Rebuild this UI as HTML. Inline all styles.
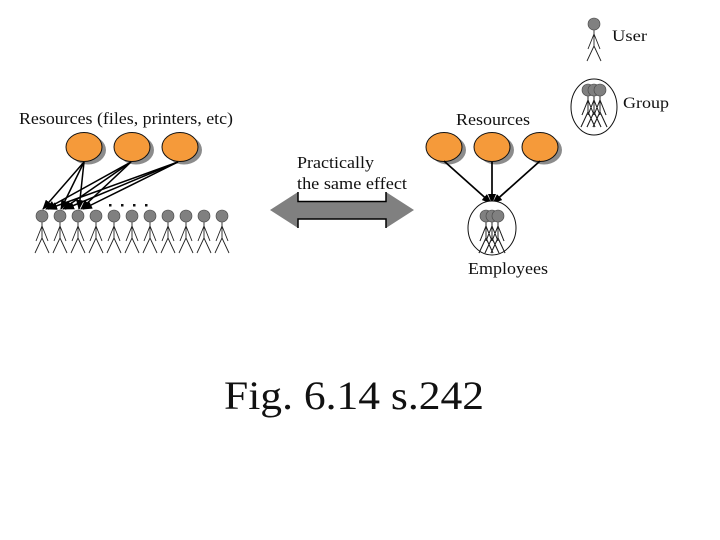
<!DOCTYPE html>
<html>
<head>
<meta charset="utf-8">
<style>
html,body{margin:0;padding:0;background:#fff;width:720px;height:540px;overflow:hidden}
svg{display:block}
text{font-family:"Liberation Serif",serif;fill:#111}
</style>
</head>
<body>
<svg width="720" height="540" viewBox="0 0 720 540" xmlns="http://www.w3.org/2000/svg">
<defs>
<g id="res">
<ellipse cx="4" cy="3" rx="18" ry="14.5" fill="#8c8c8c"/>
<ellipse cx="0" cy="0" rx="18" ry="14.5" fill="#f59a3a" stroke="#111" stroke-width="1"/>
</g>
<g id="body" fill="none" stroke="#222" stroke-width="0.9">
<path d="M0 6V22M0 10L-6 25M0 10L6 25M0 22L-7 37M0 22L7 37"/>
</g>
<g id="p">
<use href="#body"/>
<circle r="6" fill="#808080" stroke="#444" stroke-width="0.6"/>
</g>
<marker id="a" markerWidth="10" markerHeight="8" refX="9" refY="4" orient="auto" markerUnits="userSpaceOnUse">
<path d="M0 0L10 4L0 8z" fill="#000"/>
</marker>
</defs>

<!-- legend -->
<use href="#p" x="594" y="24"/>
<text x="612" y="41" font-size="16" textLength="35" lengthAdjust="spacingAndGlyphs">User</text>
<ellipse cx="594" cy="107" rx="23" ry="28" fill="#fff" stroke="#111"/>
<use href="#body" x="588" y="90"/><use href="#body" x="594" y="90"/><use href="#body" x="600" y="90"/>
<use href="#p" x="588" y="90"/><use href="#p" x="594" y="90"/><use href="#p" x="600" y="90"/>
<text x="623" y="108" font-size="16" textLength="46" lengthAdjust="spacingAndGlyphs">Group</text>

<!-- left -->
<text x="19" y="124" font-size="17" textLength="214" lengthAdjust="spacingAndGlyphs">Resources (files, printers, etc)</text>
<use href="#res" x="84" y="147"/><use href="#res" x="132" y="147"/><use href="#res" x="180" y="147"/>
<use href="#p" x="42" y="216"/><use href="#p" x="60" y="216"/><use href="#p" x="78" y="216"/><use href="#p" x="96" y="216"/><use href="#p" x="114" y="216"/><use href="#p" x="132" y="216"/><use href="#p" x="150" y="216"/><use href="#p" x="168" y="216"/><use href="#p" x="186" y="216"/><use href="#p" x="204" y="216"/><use href="#p" x="222" y="216"/>
<g stroke="#000" stroke-width="1.5" fill="none">
<path d="M84 162L43 209" marker-end="url(#a)"/>
<path d="M84 162L61 209" marker-end="url(#a)"/>
<path d="M84 162L79 209" marker-end="url(#a)"/>
<path d="M131 162L46 209" marker-end="url(#a)"/>
<path d="M131 162L63 209" marker-end="url(#a)"/>
<path d="M131 162L81 209" marker-end="url(#a)"/>
<path d="M178 162L48 209" marker-end="url(#a)"/>
<path d="M178 162L65 209" marker-end="url(#a)"/>
<path d="M178 162L83 209" marker-end="url(#a)"/>
</g>
<g fill="#111">
<rect x="109" y="204" width="2.5" height="2.5"/><rect x="121" y="204" width="2.5" height="2.5"/><rect x="133" y="204" width="2.5" height="2.5"/><rect x="145" y="204" width="2.5" height="2.5"/>
</g>

<!-- centre -->
<text x="297" y="168" font-size="16.5" textLength="77" lengthAdjust="spacingAndGlyphs">Practically</text>
<text x="297" y="189" font-size="16.5" textLength="110" lengthAdjust="spacingAndGlyphs">the same effect</text>
<path d="M270 210L298 192V201.5H386V192L414 210L386 228V219H298V228Z" fill="#808080"/>
<path d="M298 192V201.5H386V192M298 228V219H386V228" fill="none" stroke="#000" stroke-width="1.5"/>

<!-- right -->
<text x="456" y="125" font-size="16.5" textLength="74" lengthAdjust="spacingAndGlyphs">Resources</text>
<use href="#res" x="444" y="147"/><use href="#res" x="492" y="147"/><use href="#res" x="540" y="147"/>
<g stroke="#000" stroke-width="1.7">
<path d="M444 161L491 203" marker-end="url(#a)"/>
<path d="M492 162V203" marker-end="url(#a)"/>
<path d="M540 161L493 203" marker-end="url(#a)"/>
</g>
<ellipse cx="492" cy="228" rx="24" ry="27" fill="#fff" stroke="#111"/>
<use href="#body" x="486" y="216"/><use href="#body" x="492" y="216"/><use href="#body" x="498" y="216"/>
<use href="#p" x="486" y="216"/><use href="#p" x="492" y="216"/><use href="#p" x="498" y="216"/>
<text x="468" y="274" font-size="16.5" textLength="80" lengthAdjust="spacingAndGlyphs">Employees</text>

<!-- caption -->
<text x="224" y="409" font-size="40" textLength="260" lengthAdjust="spacingAndGlyphs">Fig. 6.14 s.242</text>
</svg>
</body>
</html>
